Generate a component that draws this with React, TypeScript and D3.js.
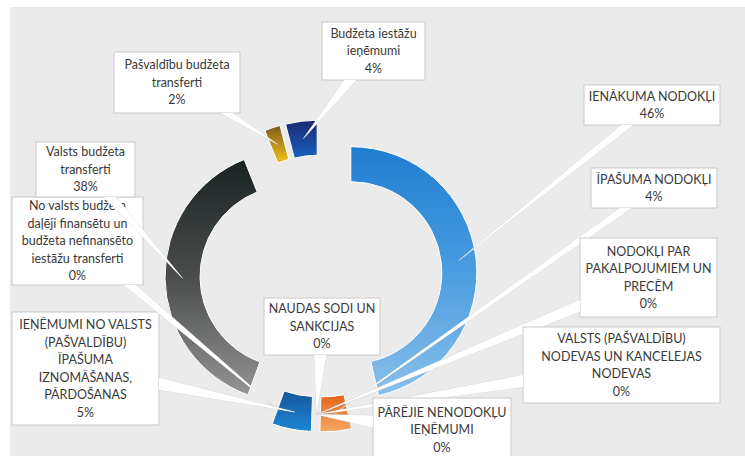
import { arc as d3Arc, pie as d3Pie } from "d3";

const WIDTH = 745;
const HEIGHT = 456;

// categories in the order Excel plotted them (clockwise from 12 o'clock)
const categories = [
  "IENĀKUMA NODOKĻI",
  "ĪPAŠUMA NODOKĻI",
  "NODOKĻI PAR\nPAKALPOJUMIEM UN\nPRECĒM",
  "VALSTS (PAŠVALDĪBU)\nNODEVAS UN KANCELEJAS\nNODEVAS",
  "PĀRĒJIE NENODOKĻU\nIEŅĒMUMI",
  "NAUDAS SODI UN\nSANKCIJAS",
  "IEŅĒMUMI NO VALSTS\n(PAŠVALDĪBU)\nĪPAŠUMA\nIZNOMĀŠANAS,\nPĀRDOŠANAS",
  "No valsts budžeta\ndaļēji finansētu un\nbudžeta nefinansēto\niestāžu transferti",
  "Valsts budžeta\ntransferti",
  "Pašvaldību budžeta\ntransferti",
  "Budžeta iestāžu\nieņēmumi",
];
const values = [46, 4, 0, 0, 0, 0, 5, 0, 38, 2, 4];

// gradient stops (top -> bottom) for each slice
const sliceColors = [
  ["#1f7dd0", "#4a9de0", "#8abfea"],
  ["#e4621a", "#f6a862"],
  ["#a5a5a5", "#c8c8c8"],
  ["#ffc000", "#ffd966"],
  ["#4472c4", "#7a9bd6"],
  ["#70ad47", "#9cc97f"],
  ["#16569a", "#1c87d6"],
  ["#9e480e", "#c46a30"],
  ["#1a2322", "#4b4d4d", "#939393"],
  ["#7a5a1e", "#f7c41b"],
  ["#1b2a6e", "#1960c2"],
];

// callout boxes [x, y, w, h]
const labelBoxes = [
  [584, 85, 136, 40],
  [591, 168, 126, 40],
  [580, 238, 137, 79],
  [523, 327, 197, 76],
  [373, 398, 138, 64],
  [264, 298, 116, 57],
  [12, 312, 147, 113],
  [12, 197, 131, 88],
  [36, 142, 99, 55],
  [114, 52, 126, 61],
  [322, 22, 103, 58],
];

const CENTER = { x: 321, y: 276 };
const OUTER = 126;
const INNER = 91;
const EXPLODE = 30;
const LINE_H = 17.5;
const FONT = 12.5;

const total = values.reduce((a, b) => a + b, 0);

const App = () => {
  const arcs = d3Pie<number>().sort(null).value((d) => d)(values);
  const arcGen = d3Arc<any>().innerRadius(INNER).outerRadius(OUTER);

  const offsetOf = (a: any) => {
    const mid = (a.startAngle + a.endAngle) / 2;
    return [EXPLODE * Math.sin(mid), -EXPLODE * Math.cos(mid)];
  };

  // tail polygon from box edge towards tip
  const tailPoints = (box: number[], tip: number[]) => {
    const [bx, by, bw, bh] = box;
    const cx = bx + bw / 2;
    const cy = by + bh / 2;
    const dx = tip[0] - cx;
    const dy = tip[1] - cy;
    const tx = dx !== 0 ? bw / 2 / Math.abs(dx) : Infinity;
    const ty = dy !== 0 ? bh / 2 / Math.abs(dy) : Infinity;
    const half = 6;
    let p1, p2;
    if (ty < tx) {
      const ex = Math.max(bx + half, Math.min(bx + bw - half, cx + dx * ty));
      const ey = dy > 0 ? by + bh : by;
      p1 = [ex - half, ey];
      p2 = [ex + half, ey];
    } else {
      const ey = Math.max(by + half, Math.min(by + bh - half, cy + dy * tx));
      const ex = dx > 0 ? bx + bw : bx;
      p1 = [ex, ey - half];
      p2 = [ex, ey + half];
    }
    return `${p1[0]},${p1[1]} ${tip[0]},${tip[1]} ${p2[0]},${p2[1]}`;
  };

  return (
    <div style={{ position: "absolute", left: 0, top: 0 }}>
      <svg width={WIDTH} height={HEIGHT} style={{ display: "block" }} fontFamily="Lato, 'Open Sans', sans-serif">
        <defs>
          {sliceColors.map((stops, i) => (
            <linearGradient key={i} id={`slice-grad-${i}`} x1="0" y1="0" x2="0" y2="1">
              {stops.map((c, j) => (
                <stop key={j} offset={j / (stops.length - 1)} stopColor={c} />
              ))}
            </linearGradient>
          ))}
        </defs>
        <rect width={WIDTH} height={HEIGHT} fill="#ffffff" />
        <rect x={10} y={7} width={WIDTH - 10} height={HEIGHT - 7} fill="#ebebeb" />

        {/* exploded doughnut slices */}
        <g transform={`translate(${CENTER.x}, ${CENTER.y})`}>
          {arcs.map((a, i) => {
            if (a.value === 0) return null;
            const [ox, oy] = offsetOf(a);
            return (
              <path
                key={i}
                d={arcGen(a) || ""}
                transform={`translate(${ox}, ${oy})`}
                fill={`url(#slice-grad-${i})`}
                stroke="#ffffff"
                strokeWidth={1}
              />
            );
          })}
        </g>

        {/* data callouts */}
        {arcs.map((a, i) => {
          const [ox, oy] = offsetOf(a);
          const c = arcGen.centroid(a);
          const tip = [CENTER.x + c[0] + ox, CENTER.y + c[1] + oy];
          const box = labelBoxes[i];
          const lines = [...categories[i].split("\n"), `${Math.round((values[i] / total) * 100)}%`];
          const pts = tailPoints(box, tip);
          const startY = box[1] + (box[3] - lines.length * LINE_H) / 2 + LINE_H / 2;
          return (
            <g key={`lbl-${i}`}>
              <polygon points={pts} fill="#ffffff" stroke="#cfcfcf" strokeWidth={0.7} />
              <rect x={box[0]} y={box[1]} width={box[2]} height={box[3]} fill="#ffffff" stroke="#c9c9c9" strokeWidth={1} />
              <polygon points={pts} fill="#ffffff" />
              {lines.map((t, j) => (
                <text
                  key={j}
                  x={box[0] + box[2] / 2}
                  y={startY + j * LINE_H + FONT * 0.35}
                  textAnchor="middle"
                  fontSize={FONT}
                  fill="#3a3a3a"
                >
                  {t}
                </text>
              ))}
            </g>
          );
        })}
      </svg>
    </div>
  );
};

export default App;
